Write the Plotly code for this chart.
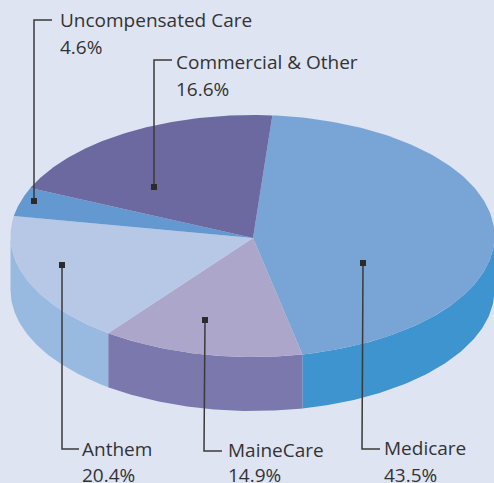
import numpy as np
import plotly.graph_objects as go

# ---- data ----
categories = ["Medicare", "MaineCare", "Anthem", "Uncompensated Care", "Commercial & Other"]
shares = [43.5, 14.9, 20.4, 4.6, 16.6]
# sweep of each slice as actually drawn in the picture (degrees on the ellipse)
drawn_sweep = [163.4, 48.5, 62.9, 13.9, 71.3]

top_colors = ["#79a4d6", "#aba6ca", "#b7c8e6", "#6399d0", "#6b69a0"]
side_colors = ["#3d94ce", "#7a78ad", "#99bae0", "#6399d0", "#6b69a0"]
BG = "#dfe4f3"
INK = "#333333"

# ---- geometry of the pie ----
W, H = 494, 483
CX, CY, RX, RY, DEPTH = 252.5, 236, 242, 121, 54
APEX = (253, 238)
START = 85.3

def rim(t):
    a = np.radians(t)
    return CX + RX * np.cos(a), CY - RY * np.sin(a)

fig = go.Figure()

# side walls (visible lower half only)
ang = START
spans = []
for s in drawn_sweep:
    spans.append((ang, ang - s))
    ang -= s

for (a0, a1), col in zip(spans, side_colors):
    lo, hi = max(a1, -180), min(a0, 0)
    if lo >= hi:
        continue
    t = np.linspace(hi, lo, 80)
    x, y = rim(t)
    fig.add_trace(go.Scatter(
        x=np.r_[x, x[::-1]], y=np.r_[y, y[::-1] + DEPTH],
        mode="lines", fill="toself", fillcolor=col, line=dict(width=0), hoverinfo="skip"))

# top faces
for (a0, a1), col, name in zip(spans, top_colors, categories):
    t = np.linspace(a0, a1, 160)
    x, y = rim(t)
    fig.add_trace(go.Scatter(
        x=np.r_[APEX[0], x, APEX[0]], y=np.r_[APEX[1], y, APEX[1]],
        mode="lines", fill="toself", fillcolor=col, line=dict(width=0),
        name=name, hoverinfo="name"))

# leaders: dot, elbow, label anchor
leaders = {
    "Uncompensated Care": ((34, 201), (34, 20), (52, 20), (60, 22), (60, 49)),
    "Commercial & Other": ((154, 187), (154, 60), (172, 60), (176, 64), (176, 91)),
    "Anthem": ((62, 265), (62, 449), (79, 449), (82, 451), (82, 477)),
    "MaineCare": ((205, 320), (204, 451), (222, 451), (228, 452), (228, 477)),
    "Medicare": ((363, 263), (362, 449), (380, 449), (384, 450), (384, 477)),
}
for name, share in zip(categories, shares):
    dot, elbow, end, lab1, lab2 = leaders[name]
    fig.add_trace(go.Scatter(
        x=[dot[0], elbow[0], end[0]], y=[dot[1], elbow[1], end[1]],
        mode="lines", line=dict(color="#3a3a3a", width=1.5), hoverinfo="skip"))
    fig.add_trace(go.Scatter(
        x=[dot[0]], y=[dot[1]], mode="markers",
        marker=dict(symbol="square", size=6, color="#2b2b2b"), hoverinfo="skip"))
    fig.add_trace(go.Scatter(
        x=[lab1[0], lab2[0]], y=[lab1[1], lab2[1]], mode="text",
        text=[name, f"{share:.1f}%"], textposition="middle right",
        textfont=dict(family="Open Sans", size=19, color=INK),
        hoverinfo="skip", cliponaxis=False))

fig.update_layout(
    width=W, height=H, showlegend=False,
    margin=dict(l=0, r=0, t=0, b=0),
    paper_bgcolor=BG, plot_bgcolor=BG,
    xaxis=dict(range=[0, W], visible=False, fixedrange=True),
    yaxis=dict(range=[H, 0], visible=False, fixedrange=True),
)
fig.write_html("out.html", config={"displayModeBar": False},
               post_script="document.body.style.margin='0';document.body.style.overflow='hidden';document.body.style.background='" + BG + "';")
